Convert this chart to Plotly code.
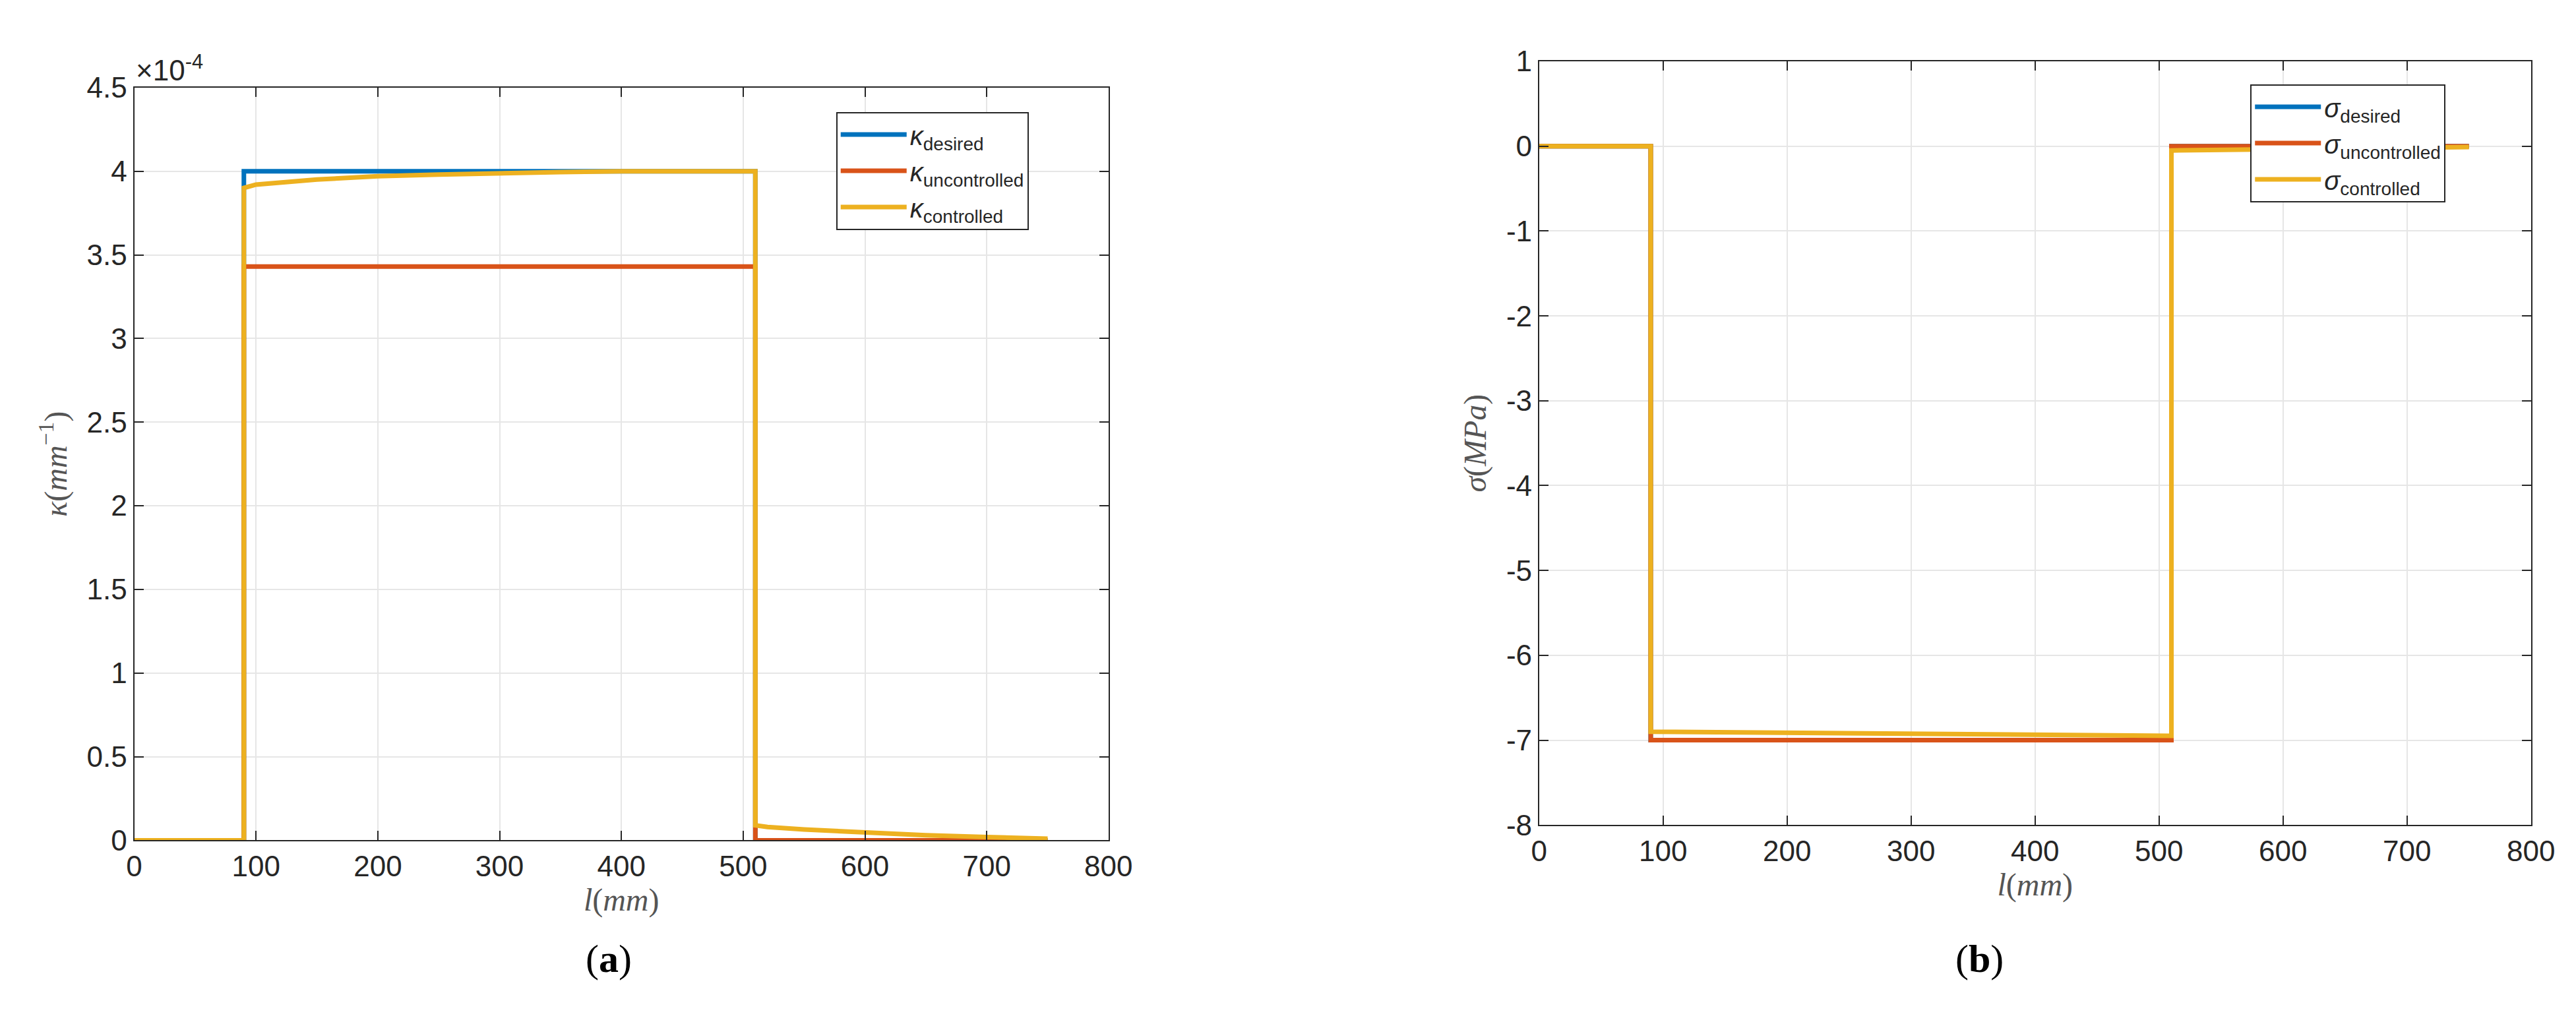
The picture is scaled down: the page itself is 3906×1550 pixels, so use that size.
import plotly.graph_objects as go

# ---- data (panel a: curvature) ----
l_desired = [0, 90, 90, 510, 510, 750]
k_desired = [0, 0, 4.0e-4, 4.0e-4, 0, 0]
l_unctrl = [0, 90, 90, 510, 510, 750]
k_unctrl = [0, 0, 3.43e-4, 3.43e-4, 0, 0]
l_ctrl = [0, 90, 90, 100, 150, 200, 250, 300, 350, 400, 450, 510, 510, 520, 550, 600, 650, 700, 750]
k_ctrl = [0, 0, 3.90e-4, 3.92e-4, 3.95e-4, 3.97e-4, 3.98e-4, 3.99e-4, 3.995e-4, 4.0e-4, 4.0e-4, 4.0e-4,
          0.09e-4, 0.08e-4, 0.065e-4, 0.045e-4, 0.03e-4, 0.02e-4, 0.01e-4]

# ---- data (panel b: stress) ----
s_l_desired = [0, 90, 90, 510, 510, 750]
s_desired = [0, 0, -7.0, -7.0, 0, 0]
s_l_unctrl = [0, 90, 90, 510, 510, 750]
s_unctrl = [0, 0, -7.0, -7.0, 0, 0]
s_l_ctrl = [0, 90, 90, 200, 300, 400, 510, 510, 600, 750]
s_ctrl = [0, 0, -6.9, -6.91, -6.92, -6.93, -6.95, -0.05, -0.03, -0.01]

x_ticks = [0, 100, 200, 300, 400, 500, 600, 700, 800]
ka_ticks = [0, 0.5e-4, 1e-4, 1.5e-4, 2e-4, 2.5e-4, 3e-4, 3.5e-4, 4e-4, 4.5e-4]
ka_ticktext = ["0", "0.5", "1", "1.5", "2", "2.5", "3", "3.5", "4", "4.5"]
sb_ticks = [1, 0, -1, -2, -3, -4, -5, -6, -7, -8]
sb_ticktext = ["1", "0", "-1", "-2", "-3", "-4", "-5", "-6", "-7", "-8"]

BLUE, RED, YEL = "#0072BD", "#D95319", "#EDB120"
W = 7

fig = go.Figure()
fig.add_trace(go.Scatter(x=l_desired, y=k_desired, mode="lines", line=dict(color=BLUE, width=W),
                         name="<i>κ</i><sub>desired</sub>", legend="legend", xaxis="x", yaxis="y"))
fig.add_trace(go.Scatter(x=l_unctrl, y=k_unctrl, mode="lines", line=dict(color=RED, width=W),
                         name="<i>κ</i><sub>uncontrolled</sub>", legend="legend", xaxis="x", yaxis="y"))
fig.add_trace(go.Scatter(x=l_ctrl, y=k_ctrl, mode="lines", line=dict(color=YEL, width=W),
                         name="<i>κ</i><sub>controlled</sub>", legend="legend", xaxis="x", yaxis="y"))
fig.add_trace(go.Scatter(x=s_l_desired, y=s_desired, mode="lines", line=dict(color=BLUE, width=W),
                         name="<i>σ</i><sub>desired</sub>", legend="legend2", xaxis="x2", yaxis="y2"))
fig.add_trace(go.Scatter(x=s_l_unctrl, y=s_unctrl, mode="lines", line=dict(color=RED, width=W),
                         name="<i>σ</i><sub>uncontrolled</sub>", legend="legend2", xaxis="x2", yaxis="y2"))
fig.add_trace(go.Scatter(x=s_l_ctrl, y=s_ctrl, mode="lines", line=dict(color=YEL, width=W),
                         name="<i>σ</i><sub>controlled</sub>", legend="legend2", xaxis="x2", yaxis="y2"))

tickfont = dict(family="Liberation Sans, Arial", size=44, color="#262626")
titlefont = dict(family="Liberation Serif", size=48, color="#555555")
common = dict(showgrid=True, gridcolor="#e6e6e6", gridwidth=2, ticks="inside", ticklen=14,
              tickwidth=2, tickcolor="#262626", mirror="allticks", showline=True,
              linecolor="#262626", linewidth=2, zeroline=False, tickfont=tickfont)

legstyle = dict(bgcolor="white", bordercolor="#262626", borderwidth=2,
                font=dict(family="Liberation Sans, Arial", size=40, color="#262626"),
                xanchor="left", yanchor="top", tracegroupgap=0, itemwidth=100)

fig.update_layout(
    width=3906, height=1550, paper_bgcolor="white", plot_bgcolor="white",
    margin=dict(l=0, r=0, t=0, b=0), showlegend=True,
    xaxis=dict(domain=[0.0476, 0.4306], range=[0, 800], tickvals=x_ticks, anchor="y",
               title=dict(text="<i>l</i>(<i>mm</i>)", font=titlefont, standoff=10), **common),
    yaxis=dict(domain=[0.1729, 0.9335], range=[0, 4.5e-4], tickvals=ka_ticks, ticktext=ka_ticktext,
               anchor="x", title=dict(text="<i>κ</i>(<i>mm</i><sup>−1</sup>)", font=titlefont, standoff=15), **common),
    xaxis2=dict(domain=[0.5999, 0.9898], range=[0, 800], tickvals=x_ticks, anchor="y2",
                title=dict(text="<i>l</i>(<i>mm</i>)", font=titlefont, standoff=10), **common),
    yaxis2=dict(domain=[0.1884, 0.96], range=[-8, 1], tickvals=sb_ticks, ticktext=sb_ticktext,
                anchor="x2", title=dict(text="<i>σ</i>(<i>MPa</i>)", font=titlefont, standoff=15), **common),
    legend=dict(x=0.3235, y=0.909, **legstyle),
    legend2=dict(x=0.8795, y=0.937, **legstyle),
    annotations=[
        dict(text="×10<sup>-4</sup>", x=0.0476, y=0.9335, xref="paper", yref="paper",
             xanchor="left", yanchor="bottom", showarrow=False, font=tickfont),
        dict(text="(<b>a</b>)", x=0.2245, y=0.03, xref="paper", yref="paper", showarrow=False,
             font=dict(family="Liberation Serif", size=60, color="black")),
        dict(text="(<b>b</b>)", x=0.783, y=0.03, xref="paper", yref="paper", showarrow=False,
             font=dict(family="Liberation Serif", size=60, color="black")),
    ],
)
fig.write_html("out.html")
